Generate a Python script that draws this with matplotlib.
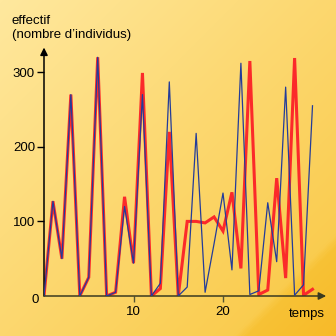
import numpy as np
import matplotlib
matplotlib.use("Agg")
import matplotlib.pyplot as plt
from matplotlib.colors import LinearSegmentedColormap

plt.rcParams['font.family'] = ['Liberation Sans', 'DejaVu Sans']

temps = list(range(31))
red_vals = [0, 127, 50, 270, 0, 25, 320, 0, 5, 133, 44, 299, 0, 10, 220, 0,
            100, 100, 98, 106, 87, 139, 37, 315, 2, 8, 158, 24, 319, 1, 9]
blue_vals = [0, 127, 50, 270, 0, 25, 320, 0, 5, 120, 44, 270, 0, 17, 287, 0,
             12, 218, 5, 70, 138, 35, 312, 2, 7, 125, 46, 280, 1, 15, 255]
y_ticks = [100, 200, 300]
x_ticks = [10, 20]

W = H = 336
fig = plt.figure(figsize=(3.36, 3.36), dpi=100)

# background gradient
bg = fig.add_axes([0, 0, 1, 1], zorder=-10)
gx, gy = np.meshgrid(np.linspace(0, 1, 300), np.linspace(0, 1, 300))
t = (gx + gy) / 2.0
cmap = LinearSegmentedColormap.from_list(
    "bgc", [(0.0, (1.0, 0.91, 0.62)), (0.45, (0.99, 0.85, 0.45)),
            (0.85, (0.98, 0.80, 0.31)), (0.87, (0.97, 0.76, 0.21)),
            (1.0, (0.97, 0.73, 0.16))])
bg.imshow(t, cmap=cmap, extent=[0, 1, 0, 1], origin='upper', aspect='auto')
bg.set_axis_off()

def fx(px):
    return px / W

def fy(py):
    return 1 - py / H

x0, y0 = 44, 296
ppx = 8.95
ppy = 0.746
left, right, top = 44, 322, 50
ax = fig.add_axes([fx(left), fy(y0), (right - left) / W, (y0 - top) / H])
ax.set_xlim(0, (right - left) / ppx)
ax.set_ylim(0, (y0 - top) / ppy)
ax.patch.set_alpha(0)
for s in ax.spines.values():
    s.set_visible(False)

ax.plot(temps, red_vals, color='#fb2a2a', lw=2.2, zorder=3, solid_joinstyle='miter')
ax.plot(temps, blue_vals, color='#233c9a', lw=0.9, zorder=4)

ax.set_xticks(x_ticks)
ax.set_xticklabels([str(v) for v in x_ticks], fontsize=9.5)
ax.set_yticks(y_ticks)
ax.set_yticklabels([str(v) for v in y_ticks], fontsize=9.5)
ax.tick_params(axis='y', length=5, width=1, color='black', pad=1.5)
ax.tick_params(axis='x', length=4, width=1, color='#555533', pad=3)

# axes lines with arrows
ax.annotate('', xy=(0, 1.01), xytext=(0, 0), xycoords='axes fraction',
            arrowprops=dict(arrowstyle='-|>', lw=1.1, color='black',
                            mutation_scale=11, shrinkA=0, shrinkB=0),
            annotation_clip=False)
ax.annotate('', xy=(1.015, 0), xytext=(0, 0), xycoords='axes fraction',
            arrowprops=dict(arrowstyle='-|>', lw=1.1, color='#3a3a20',
                            mutation_scale=11, shrinkA=0, shrinkB=0),
            annotation_clip=False)

fig.text(fx(39), fy(300), '0', fontsize=9.5, ha='right', va='center')
fig.text(fx(12), fy(21), 'effectif', fontsize=9.5, ha='left', va='center')
fig.text(fx(12), fy(35), '(nombre d\u2019individus)', fontsize=9.5, ha='left', va='center')
fig.text(fx(325), fy(314), 'temps', fontsize=9.5, ha='right', va='center')

fig.savefig('out.png', dpi=100)
